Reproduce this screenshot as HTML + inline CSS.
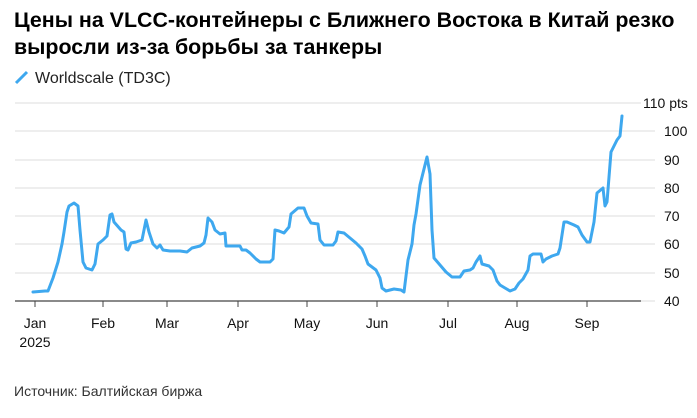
<!DOCTYPE html>
<html><head><meta charset="utf-8"><style>
body{margin:0;background:#fff;width:697px;height:413px;overflow:hidden;font-family:"Liberation Sans",Arial,sans-serif}
</style></head><body>
<svg width="697" height="413" xmlns="http://www.w3.org/2000/svg" font-family="Liberation Sans, Arial, sans-serif">
<text x="14" y="27" font-size="21.4" font-weight="bold" fill="#000">Цены на VLCC-контейнеры с Ближнего Востока в Китай резко</text>
<text x="14" y="54" font-size="21.4" font-weight="bold" fill="#000">выросли из-за борьбы за танкеры</text>
<line x1="16" y1="83" x2="27" y2="72" stroke="#3ea8ef" stroke-width="3"/>
<text x="35" y="83" font-size="16" fill="#222">Worldscale (TD3C)</text>
<g stroke="#dcdcdc" stroke-width="1">
<line x1="15" y1="103" x2="641" y2="103"/><line x1="15" y1="131" x2="655" y2="131"/>
<line x1="15" y1="160" x2="655" y2="160"/><line x1="15" y1="188" x2="655" y2="188"/>
<line x1="15" y1="216" x2="655" y2="216"/><line x1="15" y1="244" x2="655" y2="244"/>
<line x1="15" y1="273" x2="655" y2="273"/><line x1="641" y1="301" x2="655" y2="301"/>
</g>
<line x1="15" y1="301" x2="641" y2="301" stroke="#444" stroke-width="1.2"/>
<g stroke="#444" stroke-width="1"><line x1="35" y1="301" x2="35" y2="307"/><line x1="103" y1="301" x2="103" y2="307"/><line x1="167" y1="301" x2="167" y2="307"/><line x1="238" y1="301" x2="238" y2="307"/><line x1="307" y1="301" x2="307" y2="307"/><line x1="377" y1="301" x2="377" y2="307"/><line x1="448" y1="301" x2="448" y2="307"/><line x1="517" y1="301" x2="517" y2="307"/><line x1="587" y1="301" x2="587" y2="307"/></g>
<g font-size="14" fill="#111" text-anchor="middle">
<text x="35" y="328">Jan</text><text x="35" y="347">2025</text><text x="103" y="328">Feb</text><text x="167" y="328">Mar</text><text x="238" y="328">Apr</text><text x="307" y="328">May</text><text x="377" y="328">Jun</text><text x="448" y="328">Jul</text><text x="517" y="328">Aug</text><text x="587" y="328">Sep</text>
</g>
<g font-size="14" fill="#111">
<text x="643" y="108">110 pts</text><text x="664" y="136">100</text><text x="664" y="165">90</text><text x="664" y="193">80</text><text x="664" y="221">70</text><text x="664" y="249">60</text><text x="664" y="278">50</text><text x="664" y="306">40</text>
</g>
<polyline fill="none" stroke="#3ea8ef" stroke-width="3" stroke-linejoin="round" stroke-linecap="round" points="33,292 45,291 48,291 53,278 58,262 62,244 64,232 67,212 69,206 74,203 78,206 80,230 83,262 86,268 92,270 95,264 98,244 103,240 107,236 110,215 112,214 114,222 121,230 124,232 126,249 128,250 131,243 136,242 142,240 144,230 146,220 149,232 153,244 157,248 160,245 163,250 170,251 180,251 187,252 192,248 200,246 204,243 206,235 208,218 212,222 215,230 220,234 225,233 226,246 230,246 240,246 242,250 246,250 250,253 256,259 260,262 270,262 273,259 275,230 279,231 284,233 289,227 291,214 298,208 304,208 307,216 311,223 318,224 320,240 324,245 333,245 336,241 338,232 344,233 350,238 356,243 362,249 365,256 368,264 376,270 380,278 382,288 386,291 394,289 401,290 404,292 408,260 412,244 414,225 416,214 420,185 427,157 430,174 432,230 434,258 440,265 446,272 452,277 460,277 464,271 470,270 473,268 476,262 480,256 482,264 489,266 493,270 497,281 500,285 505,288 510,291 515,289 519,283 523,279 528,270 530,256 533,254 541,254 543,262 546,259 552,256 558,254 560,248 564,222 567,222 574,225 578,227 582,235 587,242 590,242 594,222 597,193 603,188 605,206 607,202 611,152 617,140 620,136 622,116"/>
<text x="14" y="396" font-size="14" fill="#333">Источник: Балтийская биржа</text>
</svg>
</body></html>
